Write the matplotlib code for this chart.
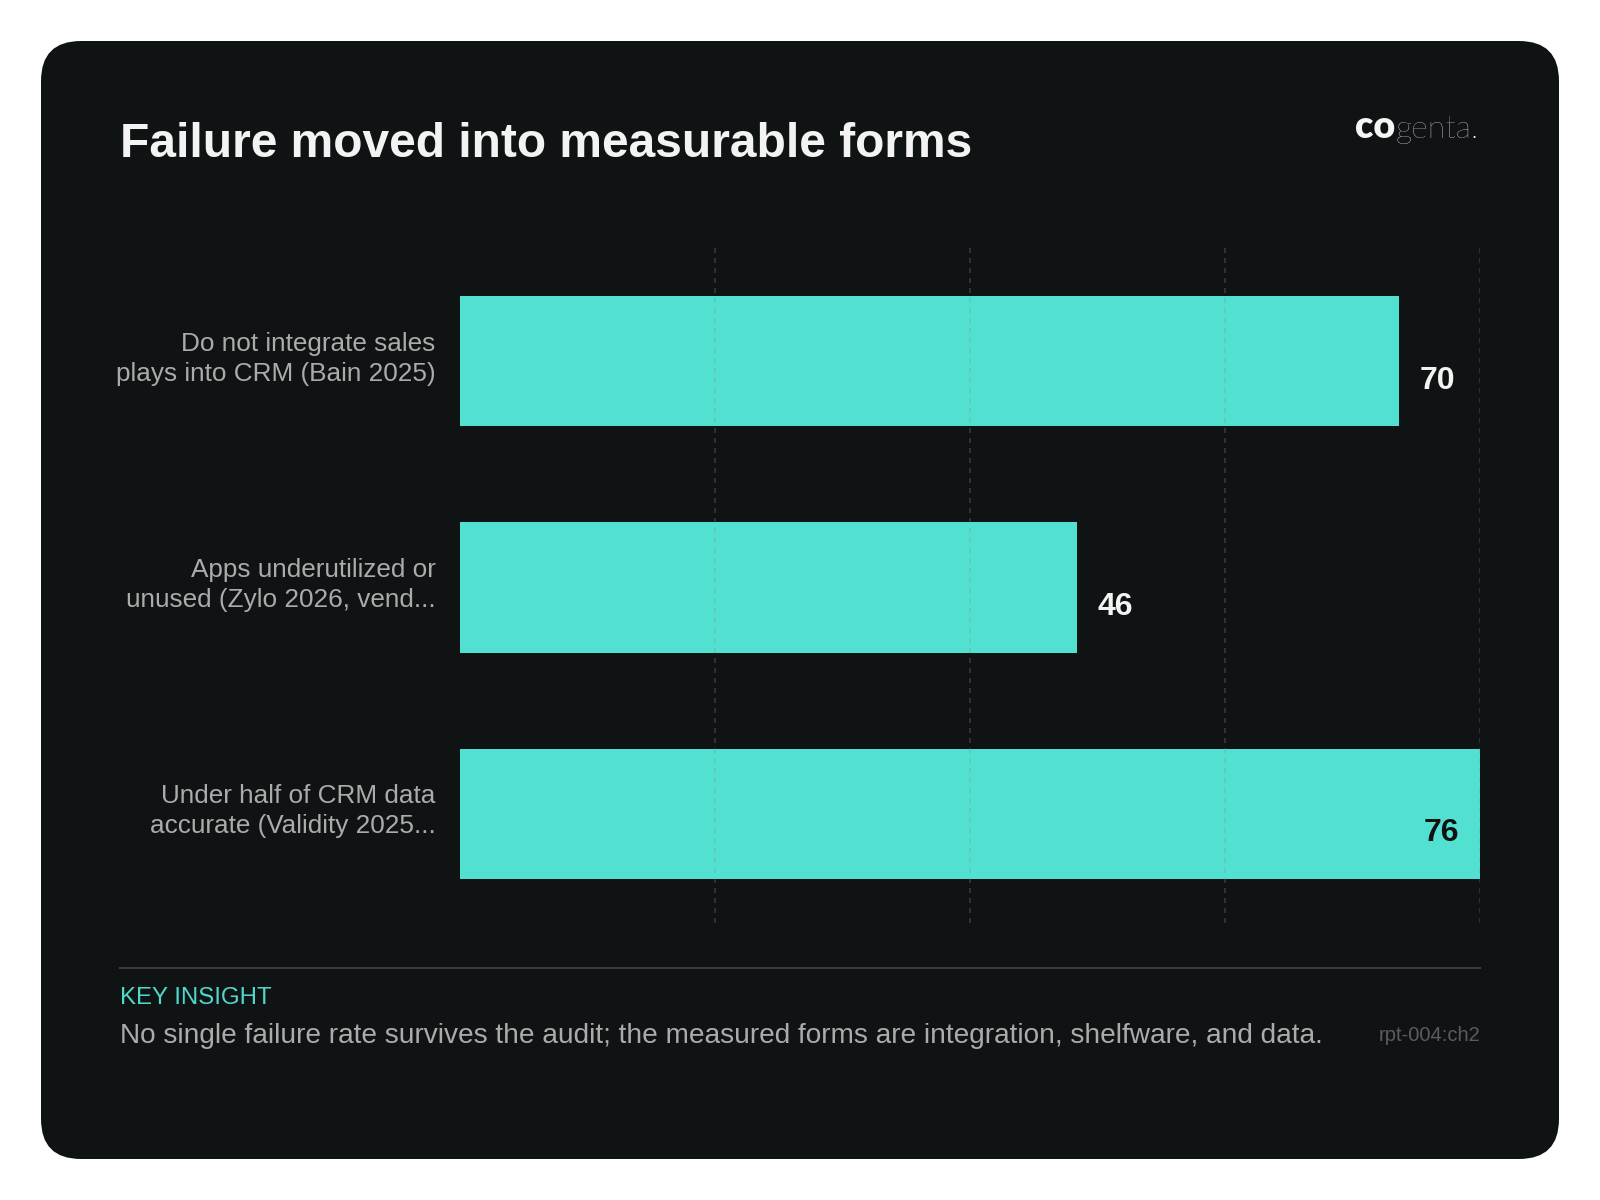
import numpy as np
import matplotlib
matplotlib.use('Agg')
import matplotlib.pyplot as plt
from matplotlib.patches import FancyBboxPatch
from matplotlib.transforms import ScaledTranslation

# data
categories = ['Do not integrate sales\nplays into CRM (Bain 2025)',
              'Apps underutilized or\nunused (Zylo 2026, vend...',
              'Under half of CRM data\naccurate (Validity 2025...']
values = [70, 46, 76]

title = 'Failure moved into measurable forms'
insight_head = 'KEY INSIGHT'
insight_text = ('No single failure rate survives the audit; the measured forms are '
                'integration, shelfware, and data.')
ref_id = 'rpt-004:ch2'

CARD = '#101314'
BAR = '#52e0d0'
TEAL_TXT = '#4fd8c9'
LABEL = '#ababab'

plt.rcParams['font.family'] = ['Liberation Sans', 'DejaVu Sans']

fig = plt.figure(figsize=(16, 12), dpi=100, facecolor='white')

# background card, pixel coordinates
bg = fig.add_axes([0, 0, 1, 1], zorder=0)
bg.set_xlim(0, 1600)
bg.set_ylim(1200, 0)
bg.axis('off')
bg.add_patch(FancyBboxPatch((41, 41), 1518, 1118,
                            boxstyle='round,pad=0,rounding_size=40',
                            facecolor=CARD, edgecolor='none'))

bg.text(120, 157, title, color='#f3f3f3', fontsize=34.5, fontweight='bold',
        ha='left', va='baseline')

# logo
g = bg.text(1479, 138, 'genta.', color='#f5f5f5', fontsize=23,
            family=['Lato', 'DejaVu Sans'], fontweight='light',
            ha='right', va='baseline')
bg.annotate('co', xy=(0, 0), xycoords=g, color='#f5f5f5', fontsize=27,
            family=['Lato', 'DejaVu Sans'], fontweight='heavy',
            ha='right', va='bottom')

# footer
bg.plot([120, 1480], [968, 968], color='#3a3d3f', lw=1.5)
bg.text(120, 1004, insight_head, color=TEAL_TXT, fontsize=17.3,
        ha='left', va='baseline')
bg.text(120, 1043, insight_text, color=LABEL, fontsize=20.2,
        ha='left', va='baseline')
bg.text(1480, 1041, ref_id, color='#5a5d5f', fontsize=14.5,
        ha='right', va='baseline')

# chart
ax = fig.add_axes([460 / 1600, 1 - 923 / 1200, 1020 / 1600, 676 / 1200], zorder=1)
ax.set_facecolor('none')
y = np.arange(len(categories))
xmax = max(values)
ax.barh(y, values, height=0.577, color=BAR, zorder=2)
ax.set_xlim(0, xmax)
ax.set_ylim(len(categories) - 0.518, -0.504)

for xv in np.linspace(0, xmax, 5)[1:]:
    ax.axvline(xv, color='#8a8a8a', alpha=0.3, lw=1.2, ls=(0, (3, 3)), zorder=3)

for yi, v in zip(y, values):
    if v >= xmax * 0.95:
        ax.annotate(str(v), xy=(v, yi), xytext=(-15, -14), textcoords='offset points',
                    ha='right', va='center', color='#111111', fontsize=23,
                    fontweight='bold', zorder=4)
    else:
        ax.annotate(str(v), xy=(v, yi), xytext=(14.5, -14), textcoords='offset points',
                    ha='left', va='center', color='#f3f3f3', fontsize=23,
                    fontweight='bold', zorder=4)

ax.set_yticks(y)
ax.set_yticklabels(categories, color=LABEL, fontsize=18.8, linespacing=1.32)
ax.tick_params(axis='y', length=0, pad=17.5)
shift = ScaledTranslation(0, 0.08, fig.dpi_scale_trans)
for lbl in ax.get_yticklabels():
    lbl.set_transform(lbl.get_transform() + shift)
ax.tick_params(axis='x', length=0, labelbottom=False)
ax.set_xticks([])
for s in ax.spines.values():
    s.set_visible(False)

fig.savefig('out.png', dpi=100, facecolor='white')
